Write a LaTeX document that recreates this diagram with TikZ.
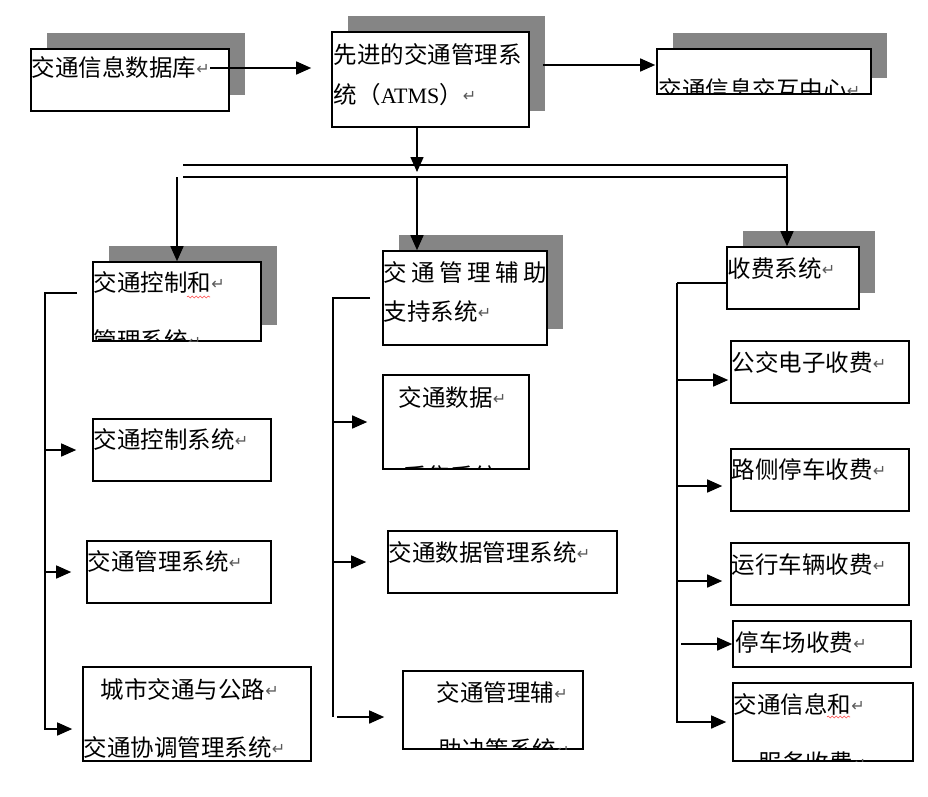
\documentclass[tikz,border=0pt]{standalone}
\usepackage{fontspec}
\setmainfont{Noto Sans CJK SC}
\newfontfamily\retfont{DejaVu Sans}
\newfontfamily\atmsfont{Liberation Serif}
\usetikzlibrary{fit,shadows,arrows.meta,decorations.pathmorphing}
\newcommand\crmark{{\retfont\fontsize{16}{16}\selectfont\color{black!65}\raisebox{2pt}{↵}}}
\tikzset{
  box/.style={draw, fill=white, inner sep=0pt, line width=1.6pt},
  shbox/.style={box, drop shadow={shadow xshift=16pt, shadow yshift=16pt, fill=black!48, opacity=1}},
  txt/.style={inner sep=0pt, anchor=west, text height=20pt, text depth=2.4pt, font=\fontsize{23.5}{28}\selectfont},
  arr/.style={-{Triangle[length=15pt,width=13pt]}},
  wavy/.style={red!70, line width=.6pt, decorate, decoration={snake, amplitude=1pt, segment length=4pt}}
}
\begin{document}
\begin{tikzpicture}[x=1pt, y=-1pt, line width=1.5pt]
\fill[white] (0,0) rectangle (928,796);
\useasboundingbox (0,0) rectangle (928,796);
% top row
\node[shbox, fit={(31,49) (229,111)}] (db) {};
\node[shbox, fit={(332,32) (529,127)}] (atms) {};
\node[shbox, fit={(657,49) (871,94)}] (ctr) {};
\node[txt] (db-t) at (31,68) {交通信息数据库\crmark};
\node[txt] (atms-t1) at (333,55) {先进的交通管理系};
\node[txt] (atms-t2) at (333,95) {统（{\atmsfont\fontsize{22}{24}\selectfont ATMS}）\crmark};
\begin{scope}
\clip (ctr.south west) rectangle (ctr.north east);
\node[txt] (ctr-t) at (658,90) {交通信息交互中心\crmark};
\end{scope}
% three branches
\node[shbox, fit={(93,262) (261,341)}] (ctl) {};
\node[box, fit={(93,419) (271,481)}] (ctlsys) {};
\node[box, fit={(87,541) (271,603)}] (mgmt) {};
\node[box, fit={(83,667) (311,761)}] (coord) {};
\node[shbox, fit={(383,251) (547,345)}] (sup) {};
\node[box, fit={(383,375) (529,469)}] (data) {};
\node[box, fit={(388,531) (617,593)}] (datamgmt) {};
\node[box, fit={(403,671) (583,749)}] (dec) {};
\node[shbox, fit={(727,247) (859,309)}] (fee) {};
\node[box, fit={(731,341) (909,403)}] (busfee) {};
\node[box, fit={(731,449) (909,511)}] (road) {};
\node[box, fit={(731,543) (909,605)}] (veh) {};
\node[box, fit={(733,621) (911,667)}] (park) {};
\node[box, fit={(733,683) (913,761)}] (info) {};
\node[txt] (ctl-t1) at (93,283) {交通控制和\crmark};
\begin{scope}
\clip (ctl.south west) rectangle (ctl.north east);
\node[txt] (ctl-t2) at (93,341) {管理系统\crmark};
\end{scope}
\node[txt] (ctlsys-t) at (93,440) {交通控制系统\crmark};
\node[txt] (mgmt-t) at (87,562) {交通管理系统\crmark};
\node[txt] (coord-t1) at (100,690) {城市交通与公路\crmark};
\node[txt] (coord-t2) at (83,748) {交通协调管理系统\crmark};
\node[txt] (sup-t1) at (383,273) {\addfontfeature{LetterSpace=19}交通管理辅助};
\node[txt] (sup-t2) at (383,312) {支持系统\crmark};
\node[txt] (data-t1) at (398,398) {交通数据\crmark};
\begin{scope}
\clip (data.south west) rectangle (data.north east);
\node[txt] (data-t2) at (403,477) {采集系统\crmark};
\end{scope}
\node[txt] (datamgmt-t) at (388,553) {交通数据管理系统\crmark};
\node[txt] (dec-t1) at (436,693) {交通管理辅\crmark};
\begin{scope}
\clip (dec.south west) rectangle (dec.north east);
\node[txt] (dec-t2) at (438,749.5) {助决策系统\crmark};
\end{scope}
\node[txt] (fee-t) at (727,269) {收费系统\crmark};
\node[txt] (busfee-t) at (731,363) {公交电子收费\crmark};
\node[txt] (road-t) at (731,470) {路侧停车收费\crmark};
\node[txt] (veh-t) at (731,565) {运行车辆收费\crmark};
\node[txt] (park-t) at (735,643) {停车场收费\crmark};
\node[txt] (info-t1) at (733,705) {交通信息和\crmark};
\begin{scope}
\clip (info.south west) rectangle (info.north east);
\node[txt] (info-t2) at (758,762.5) {服务收费\crmark};
\end{scope}
\draw[wavy] (187,297) -- (210,297);
\draw[wavy] (827,717) -- (850,717);
% connectors
\coordinate (hub) at (417,172);
\coordinate (busA) at (183,165);
\coordinate (busB) at (183,177);
\coordinate (feeX) at ([xshift=-6pt]fee.north);
\draw[arr, shorten >=20pt] (db-t.east) -- (db-t.east -| atms.west);
\draw[arr, shorten >=14pt] ([shift={(13,-14.5)}]atms.east) -- ([shift={(13,-14.5)}]atms.east -| ctr.west);
\draw[arr] (atms.south -| hub) -- (hub);
\draw[arr] (busA) -| (feeX |- fee.north);
\draw (busB) -- (busB -| feeX);
\draw[arr] (ctl.north |- busB) -- (ctl.north);
\draw[arr] (hub |- busB) -- (hub |- sup.north);
% left trunk
\coordinate (lt0) at (77,293);
\coordinate (lt) at (45,293);
\coordinate (coord-in) at ([yshift=-15pt]coord.west);
\draw[arr, shorten >=10pt] (lt0) -- (lt) |- (coord-in);
\draw[arr, shorten >=16pt] (lt |- ctlsys.west) -- (ctlsys.west);
\draw[arr, shorten >=15pt] (lt |- mgmt.west) -- (mgmt.west);
% middle trunk
\coordinate (mt0) at (370,298);
\coordinate (mt) at (333,298);
\coordinate (mb) at (333,717);
\draw (mt0) -- (mt) -- (mb);
\draw[arr, shorten >=15pt] (mt |- data.west) -- (data.west);
\draw[arr, shorten >=21pt] (mt |- datamgmt.west) -- (datamgmt.west);
\draw[arr, shorten >=18pt] ([xshift=4pt]mb) -- (mb -| dec.west);
% right trunk
\coordinate (rt) at (677,283);
\coordinate (busfee-in) at ([yshift=-8pt]busfee.west);
\coordinate (road-in) at ([yshift=-6pt]road.west);
\coordinate (veh-in) at ([yshift=-7pt]veh.west);
\draw (fee.west |- rt) -- (rt);
\draw[arr, shorten >=6pt] (rt) |- (info.west);
\draw[arr, shorten >=2pt] (rt |- busfee-in) -- (busfee-in);
\draw[arr, shorten >=8pt] (rt |- road-in) -- (road-in);
\draw[arr, shorten >=8pt] (rt |- veh-in) -- (veh-in);
\draw[arr] ([xshift=4pt]rt |- park.west) -- (park.west);
\end{tikzpicture}
\end{document}
